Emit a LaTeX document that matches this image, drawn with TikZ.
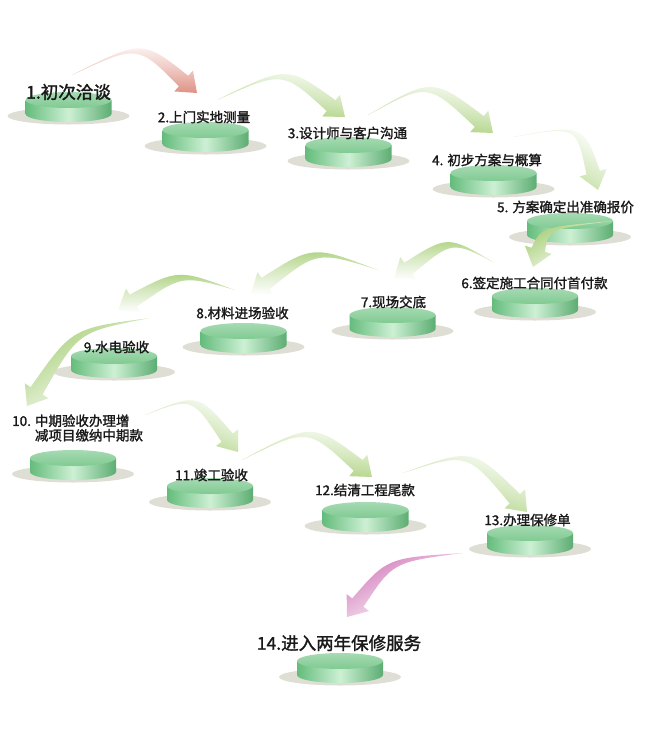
\documentclass[tikz,border=0pt]{standalone}
\usepackage{fontspec}
\newfontfamily\cjk[FakeBold=1.6]{Noto Sans CJK SC}
\usepackage{tikz}
\usetikzlibrary{calc}
\definecolor{puckside}{RGB}{100,188,124}
\definecolor{pucklight}{RGB}{205,240,212}
\definecolor{pucktop}{RGB}{128,202,146}
\definecolor{puckshadow}{RGB}{222,222,213}
\definecolor{arrowgreen}{RGB}{166,206,118}
\definecolor{arrowsalmon}{RGB}{222,146,134}
\definecolor{arrowpink}{RGB}{210,124,186}
\tikzset{
steplabel/.style={ % text above each disk
font=\cjk\fontsize{13.5}{14.5}\selectfont,
text=black!90,
inner sep=0pt},
biglabel/.style={ % first and last step
steplabel,
font=\cjk\fontsize{17.5}{20}\selectfont},
puck/.pic={ % green disk with its shadow
\fill[puckshadow] (0,24) ellipse [x radius=61, y radius=8.5];
\shade[left color=puckside, right color=puckside!92!black, middle color=pucklight]
(-43,8) -- (-43,22) arc [start angle=180, end angle=0, x radius=43, y radius=8] -- (43,8) -- cycle;
\shade[top color=pucktop!70!white, bottom color=pucktop] (0,8) ellipse [x radius=43, y radius=8];
}}
% tapered curved arrow: tail, bend, tip, colour, shading angle
\newcommand{\bendarrow}[5]{%
\coordinate (hb) at ($(#3)!18pt!(#2)$);
\shade[left color=white, right color=#4, middle color=#4!45!white, shading angle=#5]
(#1) .. controls ($(#2)!3.5pt!-90:(hb)$) .. ($(hb)!7pt!90:(#2)$)
-- ($(hb)!14pt!90:(#2)$) -- (#3) -- ($(hb)!14pt!-90:(#2)$)
-- ($(hb)!7pt!-90:(#2)$) .. controls ($(#2)!3.5pt!90:(hb)$) .. (#1) -- cycle;
}

\begin{document}
\begin{tikzpicture}[x=1pt, y=-1pt]
\useasboundingbox (0,0) rectangle (652,737);

% disks
\pic (p1) at (68.5,92) {puck};
\pic (p2) at (205.5,122) {puck};
\pic (p3) at (348.5,137) {puck};
\pic (p4) at (493.5,165) {puck};
\pic (p5) at (570,213) {puck};
\pic (p6) at (535,288) {puck};
\pic (p7) at (392.5,307) {puck};
\pic (p8) at (243.5,323) {puck};
\pic (p9) at (114,348) {puck};
\pic (p10) at (73,450) {puck};
\pic (p11) at (210,478) {puck};
\pic (p12) at (365.5,502) {puck};
\pic (p13) at (530,525) {puck};
\pic (p14) at (340,653) {puck};

% arrow ends
\coordinate (t1) at (72,75);    \coordinate (c1) at (140,42);  \coordinate (h1) at (197,93);
\coordinate (t2) at (217,100);  \coordinate (c2) at (285,68);  \coordinate (h2) at (345,117);
\coordinate (t3) at (368,115);  \coordinate (c3) at (430,80);  \coordinate (h3) at (493,133);
\coordinate (t4) at (513,137);  \coordinate (c4) at (580,125); \coordinate (h4) at (598,190);
\coordinate (t5) at (613,221);  \coordinate (c5) at (545,228); \coordinate (h5) at (533,267);
\coordinate (t6) at (495,263);  \coordinate (c6) at (450,238); \coordinate (h6) at (394,279);
\coordinate (t7) at (378,270);  \coordinate (c7) at (315,248); \coordinate (h7) at (251,294);
\coordinate (t8) at (235,290);  \coordinate (c8) at (180,272); \coordinate (h8) at (118,310);
\coordinate (t9) at (150,318);  \coordinate (c9) at (75,330);  \coordinate (h9) at (27,406);
\coordinate (t10) at (145,415); \coordinate (c10) at (195,395); \coordinate (h10) at (238,452);
\coordinate (t11) at (242,460); \coordinate (c11) at (310,425); \coordinate (h11) at (372,477);
\coordinate (t12) at (403,473); \coordinate (c12) at (470,450); \coordinate (h12) at (527,512);
\coordinate (t13) at (463,553); \coordinate (c13) at (390,560); \coordinate (h13) at (347,617);

\bendarrow{t1}{c1}{h1}{arrowsalmon}{0}
\bendarrow{t2}{c2}{h2}{arrowgreen}{-8}
\bendarrow{t3}{c3}{h3}{arrowgreen}{-8}
\bendarrow{t4}{c4}{h4}{arrowgreen}{-32}
\bendarrow{t5}{c5}{h5}{arrowgreen}{210}
\bendarrow{t6}{c6}{h6}{arrowgreen}{180}
\bendarrow{t7}{c7}{h7}{arrowgreen}{180}
\bendarrow{t8}{c8}{h8}{arrowgreen}{180}
\bendarrow{t9}{c9}{h9}{arrowgreen}{213}
\bendarrow{t10}{c10}{h10}{arrowgreen}{-22}
\bendarrow{t11}{c11}{h11}{arrowgreen}{-7}
\bendarrow{t12}{c12}{h12}{arrowgreen}{-17}
\bendarrow{t13}{c13}{h13}{arrowpink}{209}

% labels
\node[biglabel] (l1) at (68.5,92) {1.初次洽谈};
\node[steplabel] (l2) at (204,117) {2.上门实地测量};
\node[steplabel] (l3) at (347.5,133) {3.设计师与客户沟通};
\node[steplabel] (l4) at (487,160) {4. 初步方案与概算};
\node[steplabel] (l5) at (565.5,207) {5. 方案确定出准确报价};
\node[steplabel] (l6) at (534.5,283) {6.签定施工合同付首付款};
\node[steplabel] (l7) at (393.5,302) {7.现场交底};
\node[steplabel] (l8) at (242.5,313) {8.材料进场验收};
\node[steplabel] (l9) at (116.5,347) {9.水电验收};
\node[steplabel, align=left, anchor=west] (l10) at (12,428) {10. 中期验收办理增\\\phantom{10. }减项目缴纳中期款};
\node[steplabel] (l11) at (211.5,475) {11.竣工验收};
\node[steplabel] (l12) at (365,490) {12.结清工程尾款};
\node[steplabel] (l13) at (527.5,520) {13.办理保修单};
\node[biglabel] (l14) at (339,643) {14.进入两年保修服务};
\end{tikzpicture}
\end{document}
